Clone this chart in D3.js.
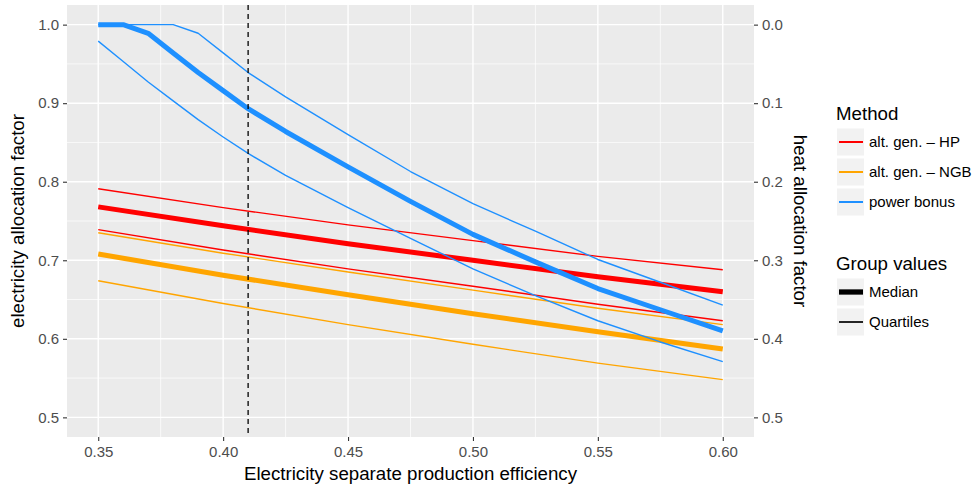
<!DOCTYPE html>
<html>
<head>
<meta charset="utf-8">
<script src="https://cdn.jsdelivr.net/npm/d3@7"></script>
<style>
  body { margin: 0; background: #fff; }
  text { font-family: "Liberation Sans", Arial, sans-serif; }
</style>
</head>
<body>
<div id="chart-area"></div>
<script>
/*
*    allocation factors vs. separate production efficiency
*/
// alt. gen. methods, read at 0.05 steps
var effAlt = [0.35, 0.40, 0.45, 0.50, 0.55, 0.60];
var hpMedian = [0.768, 0.744, 0.721, 0.700, 0.679, 0.660];
var hpUpper = [0.791, 0.767, 0.745, 0.725, 0.705, 0.688];
var hpLower = [0.739, 0.713, 0.689, 0.667, 0.644, 0.623];
var ngbMedian = [0.708, 0.681, 0.656, 0.632, 0.609, 0.587];
var ngbUpper = [0.735, 0.709, 0.685, 0.662, 0.639, 0.618];
var ngbLower = [0.674, 0.645, 0.618, 0.593, 0.569, 0.548];

// power bonus, finer near the kinks
var effPB = [0.35, 0.36, 0.37, 0.38, 0.39, 0.40, 0.41, 0.425, 0.45, 0.475, 0.50, 0.525, 0.55, 0.575, 0.60];
var pbMedian = [1.0, 1.0, 0.989, 0.964, 0.939, 0.916, 0.893, 0.864, 0.819, 0.775, 0.733, 0.698, 0.664, 0.637, 0.610];
var pbUpper = [1.0, 1.0, 1.0, 1.0, 0.989, 0.964, 0.939, 0.908, 0.860, 0.813, 0.772, 0.737, 0.701, 0.672, 0.643];
var pbLower = [0.979, 0.953, 0.927, 0.903, 0.879, 0.857, 0.836, 0.808, 0.767, 0.728, 0.689, 0.655, 0.623, 0.596, 0.571];

var refEff = 0.41;

var methods = ["alt. gen. \u2013 HP", "alt. gen. \u2013 NGB", "power bonus"];
var methodColors = ["#FF0000", "#FFA500", "#1E90FF"];
var groups = ["Median", "Quartiles"];

var xTicks = [0.35, 0.40, 0.45, 0.50, 0.55, 0.60];
var xMinor = [0.375, 0.425, 0.475, 0.525, 0.575];
var yTicks = [0.5, 0.6, 0.7, 0.8, 0.9, 1.0];
var yMinor = [0.55, 0.65, 0.75, 0.85, 0.95];

var width = 977;
var height = 489;
var panel = { left: 67, right: 754, top: 5, bottom: 437 };

var series = [
  { method: 0, group: 1, x: effAlt, y: hpUpper },
  { method: 0, group: 1, x: effAlt, y: hpLower },
  { method: 0, group: 0, x: effAlt, y: hpMedian },
  { method: 1, group: 1, x: effAlt, y: ngbUpper },
  { method: 1, group: 1, x: effAlt, y: ngbLower },
  { method: 1, group: 0, x: effAlt, y: ngbMedian },
  { method: 2, group: 1, x: effPB, y: pbUpper },
  { method: 2, group: 1, x: effPB, y: pbLower },
  { method: 2, group: 0, x: effPB, y: pbMedian }
];
var groupWidth = [5, 1.4];

var svg = d3.select("#chart-area")
  .append("svg")
  .attr("width", width)
  .attr("height", height);

var x = d3.scaleLinear()
  .domain([0.3375, 0.6125])
  .range([panel.left, panel.right]);

var y = d3.scaleLinear()
  .domain([0.475, 1.025])
  .range([panel.bottom, panel.top]);

var yHeat = d3.scaleLinear()
  .domain([0.525, -0.025])
  .range([panel.bottom, panel.top]);

svg.append("rect")
  .attr("x", panel.left)
  .attr("y", panel.top)
  .attr("width", panel.right - panel.left)
  .attr("height", panel.bottom - panel.top)
  .attr("fill", "#EBEBEB");

// grid
var grid = svg.append("g").attr("stroke", "#fff");
grid.selectAll(".xminor").data(xMinor).enter().append("line")
  .attr("x1", d => x(d)).attr("x2", d => x(d))
  .attr("y1", panel.top).attr("y2", panel.bottom)
  .attr("stroke-width", 0.7);
grid.selectAll(".yminor").data(yMinor).enter().append("line")
  .attr("y1", d => y(d)).attr("y2", d => y(d))
  .attr("x1", panel.left).attr("x2", panel.right)
  .attr("stroke-width", 0.7);
grid.selectAll(".xmajor").data(xTicks).enter().append("line")
  .attr("x1", d => x(d)).attr("x2", d => x(d))
  .attr("y1", panel.top).attr("y2", panel.bottom)
  .attr("stroke-width", 1.4);
grid.selectAll(".ymajor").data(yTicks).enter().append("line")
  .attr("y1", d => y(d)).attr("y2", d => y(d))
  .attr("x1", panel.left).attr("x2", panel.right)
  .attr("stroke-width", 1.4);

// lines
var line = d3.line()
  .x(d => x(d[0]))
  .y(d => y(d[1]));

svg.append("g")
  .selectAll("path")
  .data(series).enter()
  .append("path")
  .attr("d", s => line(s.x.map((v, i) => [v, s.y[i]])))
  .attr("fill", "none")
  .attr("stroke", s => methodColors[s.method])
  .attr("stroke-width", s => groupWidth[s.group])
  .attr("stroke-linejoin", "round")
  .attr("stroke-linecap", "butt");

svg.append("line")
  .attr("x1", x(refEff)).attr("x2", x(refEff))
  .attr("y1", panel.top).attr("y2", panel.bottom)
  .attr("stroke", "#000")
  .attr("stroke-width", 1.3)
  .attr("stroke-dasharray", "5,4");

// axes
function styleAxis(g) {
  g.select(".domain").remove();
  g.selectAll(".tick line").attr("stroke", "#333333").attr("stroke-width", 1.1);
  g.selectAll(".tick text")
    .attr("fill", "#4D4D4D")
    .attr("font-size", "15px")
    .attr("font-family", "Liberation Sans, Arial, sans-serif");
}

svg.append("g")
  .attr("transform", "translate(0," + panel.bottom + ")")
  .call(d3.axisBottom(x).tickValues(xTicks).tickSize(4).tickPadding(5).tickFormat(d3.format(".2f")))
  .call(styleAxis);

svg.append("g")
  .attr("transform", "translate(" + panel.left + ",0)")
  .call(d3.axisLeft(y).tickValues(yTicks).tickSize(4).tickPadding(4).tickFormat(d3.format(".1f")))
  .call(styleAxis);

svg.append("g")
  .attr("transform", "translate(" + panel.right + ",0)")
  .call(d3.axisRight(yHeat).tickValues(yTicks.map(d => +(1 - d).toFixed(1))).tickSize(4).tickPadding(4).tickFormat(d3.format(".1f")))
  .call(styleAxis);

svg.append("text")
  .attr("x", (panel.left + panel.right) / 2)
  .attr("y", 480)
  .attr("text-anchor", "middle")
  .attr("font-size", "18.7px")
  .text("Electricity separate production efficiency");

svg.append("text")
  .attr("transform", "translate(24," + (panel.top + panel.bottom) / 2 + ") rotate(-90)")
  .attr("text-anchor", "middle")
  .attr("font-size", "18.7px")
  .text("electricity allocation factor");

svg.append("text")
  .attr("transform", "translate(793.5," + (panel.top + panel.bottom) / 2 + ") rotate(90)")
  .attr("text-anchor", "middle")
  .attr("font-size", "18.7px")
  .text("heat allocation factor");

// legends
var legend = svg.append("g").attr("transform", "translate(837,0)");

legend.append("text")
  .attr("x", -1).attr("y", 120)
  .attr("font-size", "18.7px")
  .text("Method");

var mKeys = legend.selectAll(".mkey")
  .data(methods).enter()
  .append("g")
  .attr("transform", (d, i) => "translate(0," + (128.5 + i * 30) + ")");
mKeys.append("rect")
  .attr("width", 27).attr("height", 27)
  .attr("fill", "#F2F2F2");
mKeys.append("line")
  .attr("x1", 2).attr("x2", 26)
  .attr("y1", 13.5).attr("y2", 13.5)
  .attr("stroke", (d, i) => methodColors[i])
  .attr("stroke-width", 2);
mKeys.append("text")
  .attr("x", 32).attr("y", 13.5)
  .attr("dy", "0.35em")
  .attr("font-size", "15px")
  .text(d => d);

legend.append("text")
  .attr("x", -1).attr("y", 270)
  .attr("font-size", "18.7px")
  .text("Group values");

var gKeys = legend.selectAll(".gkey")
  .data(groups).enter()
  .append("g")
  .attr("transform", (d, i) => "translate(0," + (278.5 + i * 30) + ")");
gKeys.append("rect")
  .attr("width", 27).attr("height", 27)
  .attr("fill", "#F2F2F2");
gKeys.append("line")
  .attr("x1", 2).attr("x2", 26)
  .attr("y1", 13.5).attr("y2", 13.5)
  .attr("stroke", "#000")
  .attr("stroke-width", (d, i) => i === 0 ? 5.3 : 1.7);
gKeys.append("text")
  .attr("x", 32).attr("y", 13.5)
  .attr("dy", "0.35em")
  .attr("font-size", "15px")
  .text(d => d);
</script>
</body>
</html>
